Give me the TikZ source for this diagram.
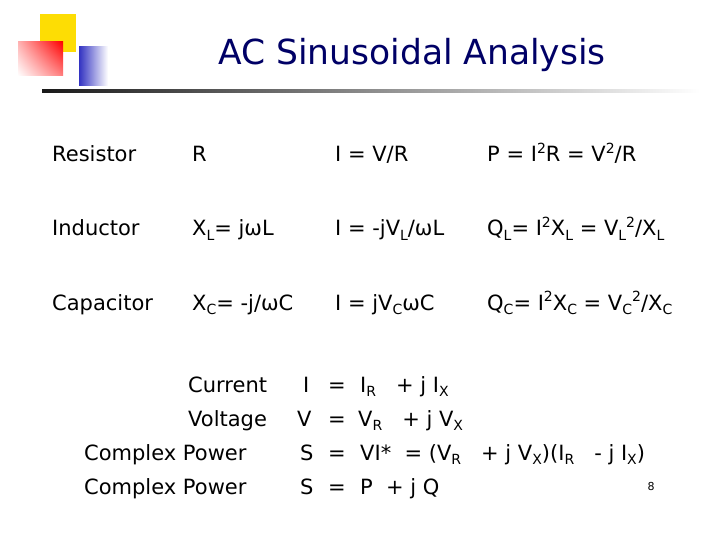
\documentclass[tikz,border=0pt]{standalone}
\usepackage{fontspec}
\setmainfont{DejaVu Sans}
\usetikzlibrary{shadings}
\newcommand\lo[1]{\raisebox{-0.35ex}{\fontsize{14}{14}\selectfont #1}}
\newcommand\hi[1]{\raisebox{0.7ex}{\fontsize{14}{14}\selectfont #1}}
\begin{document}
\begin{tikzpicture}[x=1pt,y=-1pt,
  t/.style={anchor=base west,inner sep=0pt,font=\fontsize{21}{24}\selectfont}]
\useasboundingbox (0,0) rectangle (720,540);
\fill[white] (0,0) rectangle (720,540);
\fill[yellow!80!orange] (40,14) rectangle (76,52);
\shade[upper left=red!30, lower right=red!50, upper right=red, lower left=white] (18,42) rectangle (63,76);
\shade[left color=blue!70!black!80, right color=white] (79,47) rectangle (108,86);
\shade[left color=black!90, right color=white] (42,90) rectangle (700,93);
\node[anchor=base,inner sep=0pt,text=blue!40!black,font=\fontsize{34.5}{38}\selectfont] (title) at (412,65) {AC Sinusoidal Analysis};
% rows
\node[t] (r1) at (52,162) {Resistor};
\node[t] (r2) at (192,162) {R};
\node[t] (r3) at (335,162) {I = V/R};
\node[t] (r4) at (487,162) {P = I\hi{2}R = V\hi{2}/R};
\node[t] (l1) at (52,236) {Inductor};
\node[t] (l2) at (192,236) {X\lo{L}= jωL};
\node[t] (l3) at (335,236) {I = -jV\lo{L}/ωL};
\node[t] (l4) at (487,236) {Q\lo{L}= I\hi{2}X\lo{L} = V\lo{L}\hi{2}/X\lo{L}};
\node[t] (c1) at (52,310) {Capacitor};
\node[t] (c2) at (192,310) {X\lo{C}= -j/ωC};
\node[t] (c3) at (335,310) {I = jV\lo{C}ωC};
\node[t] (c4) at (487,310) {Q\lo{C}= I\hi{2}X\lo{C} = V\lo{C}\hi{2}/X\lo{C}};
% bottom
\node[t] (b1) at (188,392) {Current};
\node[t] (b2) at (188,426) {Voltage};
\node[t] (b3) at (84,460) {Complex Power};
\node[t] (b4) at (84,494) {Complex Power};
\node[t] (s1) at (303,392) {I};
\node[t] (s2) at (297,426) {V};
\node[t] (s3) at (300,460) {S};
\node[t] (s4) at (300,494) {S};
\foreach \y/\n in {392/e1,426/e2,460/e3,494/e4} \node[t] (\n) at (328,\y) {=};
\node[t] (q1) at (360,392) {I\lo{R}\ \ \ + j I\lo{X}};
\node[t] (q2) at (358,426) {V\lo{R}\ \ \ + j V\lo{X}};
\node[t] (q3) at (360,460) {VI*\ \ = (V\lo{R}\ \ \ + j V\lo{X})(I\lo{R}\ \ \ - j I\lo{X})};
\node[t] (q4) at (360,494) {P\ \ + j Q};
\node[anchor=base,inner sep=0pt,font=\fontsize{11}{12}\selectfont] (pg) at (651,490) {8};
\end{tikzpicture}
\end{document}
